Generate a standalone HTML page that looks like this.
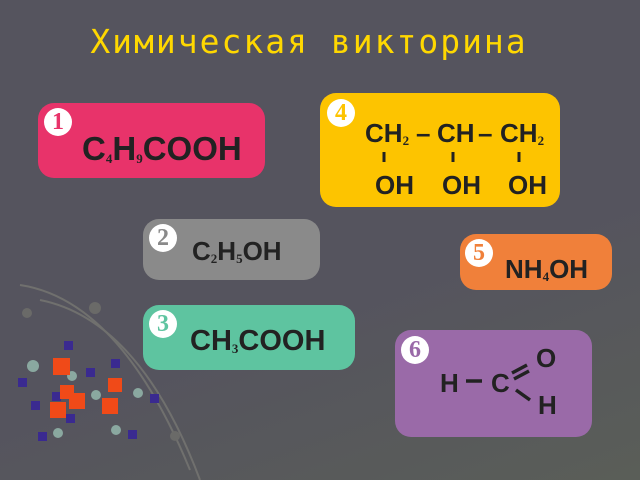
<!DOCTYPE html><html><head><style>
body{margin:0;width:640px;height:480px;overflow:hidden;background:linear-gradient(160deg,#55545e 60%,#5a5e58 100%);position:relative;font-family:"Liberation Sans",Arial,sans-serif}
.b{position:absolute;border-radius:16px}
.n{position:absolute;width:28px;height:28px;border-radius:50%;background:#fff;font:bold 24px "Liberation Serif",serif;text-align:center;line-height:28px}
.t{position:absolute;font-weight:bold;color:#222;font-size:26px;line-height:30px;white-space:nowrap}
sub{font-size:13px;vertical-align:-3px;font-family:"Liberation Serif",serif}
</style></head><body>
<div style="position:absolute;left:0;top:22px;width:618px;text-align:center;color:#ffd800;font:33px 'DejaVu Sans Mono',monospace;letter-spacing:2px">Химическая  викторина</div>
<svg style="position:absolute;left:0;top:0" width="640" height="480">
<path d="M20 285 Q120 300 190 470" stroke="#70706e" stroke-width="2" fill="none"/>
<path d="M40 300 Q140 320 200 480" stroke="#70706e" stroke-width="2" fill="none"/>
<circle cx="95" cy="308" r="6" fill="#6a6a68"/><circle cx="27" cy="313" r="5" fill="#6a6a68"/><circle cx="175" cy="436" r="5" fill="#6a6a68"/>
<g fill="#3a2a90"><rect x="64" y="341" width="9" height="9"/><rect x="18" y="378" width="9" height="9"/><rect x="86" y="368" width="9" height="9"/><rect x="111" y="359" width="9" height="9"/><rect x="150" y="394" width="9" height="9"/><rect x="31" y="401" width="9" height="9"/><rect x="66" y="414" width="9" height="9"/><rect x="128" y="430" width="9" height="9"/><rect x="38" y="432" width="9" height="9"/><rect x="52" y="392" width="9" height="9"/></g>
<g fill="#8aa8a0"><circle cx="33" cy="366" r="6"/><circle cx="72" cy="376" r="5"/><circle cx="96" cy="395" r="5"/><circle cx="138" cy="393" r="5"/><circle cx="116" cy="430" r="5"/><circle cx="58" cy="433" r="5"/></g>
<g fill="#f04a18"><rect x="53" y="358" width="17" height="17"/><rect x="60" y="385" width="14" height="14"/><rect x="69" y="393" width="16" height="16"/><rect x="50" y="402" width="16" height="16"/><rect x="108" y="378" width="14" height="14"/><rect x="102" y="398" width="16" height="16"/></g>
</svg>
<div class="b" style="left:38px;top:103px;width:227px;height:75px;background:#e8336a"></div>
<div class="n" style="left:44px;top:108px;color:#e8336a">1</div>
<div class="t" style="left:82px;top:131px;font-size:33px;line-height:36px">C<sub>4</sub>H<sub>9</sub>COOH</div>
<div class="b" style="left:320px;top:93px;width:240px;height:114px;background:#fdc400"></div>
<div class="n" style="left:327px;top:99px;color:#fdc400">4</div>
<div class="t" style="left:365px;top:118px">CH<sub>2</sub></div><div class="t" style="left:416px;top:118px">–</div>
<div class="t" style="left:437px;top:118px">CH</div><div class="t" style="left:478px;top:118px">–</div>
<div class="t" style="left:500px;top:118px">CH<sub>2</sub></div>
<svg style="position:absolute;left:0;top:0" width="640" height="480"><g stroke="#222" stroke-width="3"><path d="M384 152v10M453 152v10M519 152v10"/></g></svg>
<div class="t" style="left:375px;top:170px">OH</div><div class="t" style="left:442px;top:170px">OH</div><div class="t" style="left:508px;top:170px">OH</div>
<div class="b" style="left:143px;top:219px;width:177px;height:61px;background:#8a8a8a"></div>
<div class="n" style="left:149px;top:224px;color:#8a8a8a">2</div>
<div class="t" style="left:192px;top:236px">C<sub>2</sub>H<sub>5</sub>OH</div>
<div class="b" style="left:460px;top:234px;width:152px;height:56px;background:#f0803a"></div>
<div class="n" style="left:465px;top:239px;color:#f0803a">5</div>
<div class="t" style="left:505px;top:254px">NH<sub>4</sub>OH</div>
<div class="b" style="left:143px;top:305px;width:212px;height:65px;background:#5ec4a0"></div>
<div class="n" style="left:149px;top:310px;color:#5ec4a0">3</div>
<div class="t" style="left:190px;top:326px;font-size:29px">CH<sub>3</sub>COOH</div>
<div class="b" style="left:395px;top:330px;width:197px;height:107px;background:#9a6aa8"></div>
<div class="n" style="left:401px;top:336px;color:#9a6aa8">6</div>
<div class="t" style="left:536px;top:343px">O</div>
<div class="t" style="left:440px;top:368px">H</div>
<div class="t" style="left:491px;top:368px">C</div>
<div class="t" style="left:538px;top:390px">H</div>
<svg style="position:absolute;left:0;top:0" width="640" height="480"><g stroke="#222" stroke-width="3.5"><path d="M466 381h16M512 373l15-8M514 379l15-8M516 390l14 10"/></g></svg>
</body></html>
